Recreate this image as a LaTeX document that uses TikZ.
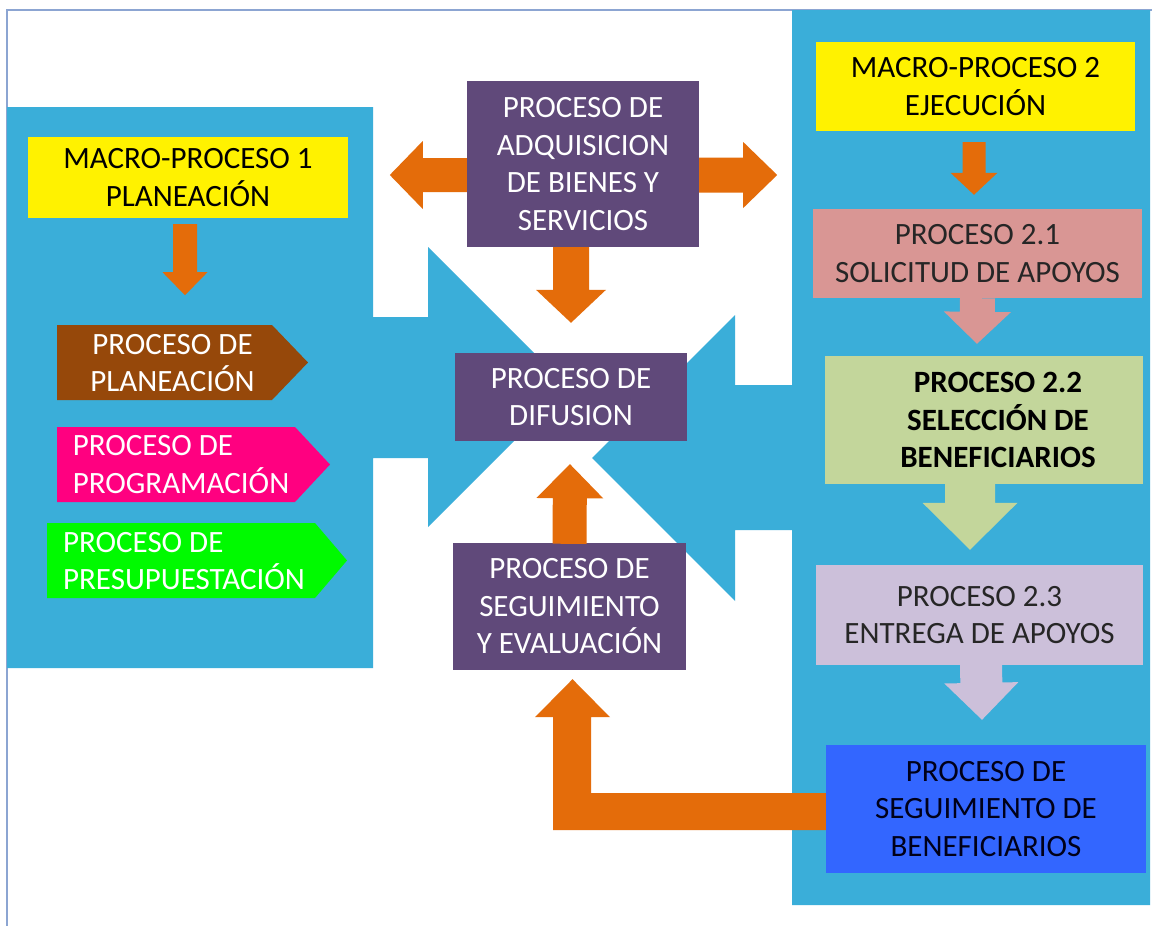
\documentclass[tikz,border=0pt]{standalone}
\usepackage{fontspec}
\setmainfont{Carlito}
\usetikzlibrary{calc}
\definecolor{panelblue}{RGB}{58,174,217}
\definecolor{orangec}{RGB}{228,108,10}
\definecolor{purplec}{RGB}{96,73,122}
\definecolor{brownc}{RGB}{150,72,10}
\definecolor{magentac}{RGB}{255,0,128}
\definecolor{greenc}{RGB}{0,250,0}
\definecolor{pinkc}{RGB}{217,150,148}
\definecolor{lgreenc}{RGB}{195,214,155}
\definecolor{lavc}{RGB}{204,192,218}
\definecolor{bluec}{RGB}{51,102,255}
\definecolor{framec}{RGB}{140,165,210}
\definecolor{darktxt}{RGB}{38,38,38}
\tikzset{
  box/.style={rectangle, inner sep=0pt, align=center, font=\fontsize{31}{37.5}\selectfont},
  txt/.style={inner sep=0pt, font=\fontsize{31}{37.5}\selectfont},
}
\newcommand\blockarrow[6]{%
  \coordinate (baH) at ($(#2)!#5!(#1)$);
  \fill[#6] ($(#1)!#3!90:(#2)$) -- ($(baH)!#3!90:(#2)$) -- ($(baH)!#4!90:(#2)$)
    -- (#2) -- ($(baH)!#4!-90:(#2)$) -- ($(baH)!#3!-90:(#2)$)
    -- ($(#1)!#3!-90:(#2)$) -- cycle;}
\begin{document}
\begin{tikzpicture}[x=1pt,y=-1pt]
\useasboundingbox (0,0) rectangle (1152,926);
\fill[white] (0,0) rectangle (1152,926);
% frame
\draw[framec, line width=1.5pt] (7,926) -- (7,10) -- (1152,10);
% left panel with arrow
\fill[panelblue] (7,107) -- (373,107) -- (373,317) -- (428,317) -- (428,247)
  -- (568,387) -- (428,527) -- (428,458) -- (373,458) -- (373,668) -- (7,668) -- cycle;
% right panel with arrow
\fill[panelblue] (792,10) -- (1150,10) -- (1150,905) -- (792,905) -- (792,530)
  -- (735,530) -- (735,601) -- (592,458) -- (735,315) -- (735,385) -- (792,385) -- cycle;

% left side
\node[box, fill=yellow, minimum width=320pt, minimum height=81pt] (m1) at (188,177.5)
  {MACRO-PROCESO 1\\PLANEACIÓN};
\fill[brownc] (57,325) -- (272,325) -- (308,362.5) -- (272,400) -- (57,400) -- cycle;
\node[txt, white, align=center] (plan) at (172.5,363) {PROCESO DE\\PLANEACIÓN};
\fill[magentac] (57,427) -- (295,427) -- (330,464.5) -- (295,502) -- (57,502) -- cycle;
\node[txt, white, align=left] (prog) at (181,464.5) {PROCESO DE\\PROGRAMACIÓN};
\fill[greenc] (47,523) -- (315,523) -- (347,560.5) -- (315,598) -- (47,598) -- cycle;
\node[txt, white, align=left] (pres) at (184,561) {PROCESO DE\\PRESUPUESTACIÓN};

% center
\node[box, fill=purplec, text=white, minimum width=232pt, minimum height=166pt] (adq) at (583,164)
  {PROCESO DE\\ADQUISICION\\DE BIENES Y\\SERVICIOS};
\node[box, fill=purplec, text=white, minimum width=232pt, minimum height=88pt] (dif) at (571,397)
  {PROCESO DE\\DIFUSION};
\node[box, fill=purplec, text=white, minimum width=233pt, minimum height=127pt] (seg) at (569.5,606.5)
  {PROCESO DE\\SEGUIMIENTO\\Y EVALUACIÓN};

% right side
\node[box, fill=yellow, minimum width=319pt, minimum height=89pt] (m2) at (975.5,86.5)
  {MACRO-PROCESO 2\\EJECUCIÓN};
\node[box, fill=pinkc, text=darktxt, minimum width=329pt, minimum height=89pt] (s21) at (977.5,253.5)
  {PROCESO 2.1\\SOLICITUD DE APOYOS};
\node[box, fill=lgreenc, minimum width=318pt, minimum height=128pt] (s22) at (984,420) {};
\node[txt, align=center, font=\fontsize{31}{37.5}\selectfont\bfseries] (s22t) at (998,420)
  {PROCESO 2.2\\SELECCIÓN DE\\BENEFICIARIOS};
\node[box, fill=lavc, text=darktxt, minimum width=327pt, minimum height=100pt] (s23) at (979.5,615)
  {PROCESO 2.3\\ENTREGA DE APOYOS};
\node[box, fill=bluec, text=black!90!blue, minimum width=320pt, minimum height=128pt] (ben) at (986,809)
  {PROCESO DE\\SEGUIMIENTO DE\\BENEFICIARIOS};

% arrows
\coordinate (a1s) at ($(m1.south)+(-3,6)$);
\coordinate (a1t) at ($(m1.south)+(-3,77)$);
\blockarrow{a1s}{a1t}{12pt}{22.5pt}{23pt}{orangec}

\coordinate (a2s) at ($(adq.west)+(0,11)$);
\coordinate (a2t) at ($(adq.west)+(-77,11)$);
\blockarrow{a2s}{a2t}{17pt}{34pt}{33pt}{orangec}
\coordinate (a3s) at ($(adq.east)+(0,11)$);
\coordinate (a3t) at ($(adq.east)+(78,11)$);
\blockarrow{a3s}{a3t}{17.5pt}{33pt}{34pt}{orangec}

\coordinate (a4s) at (adq.south -| dif.north);
\coordinate (a4t) at ($(dif.north)+(0,-30)$);
\blockarrow{a4s}{a4t}{18pt}{35pt}{33pt}{orangec}

\coordinate (a5s) at ($(seg.north)+(0,1)$);
\coordinate (a5t) at ($(dif.south)+(-1,23)$);
\blockarrow{a5s}{a5t}{17pt}{33.5pt}{34pt}{orangec}

\coordinate (a6s) at ($(m2.south)+(-1.5,11)$);
\coordinate (a6t) at ($(s21.north)+(-3.5,-14)$);
\blockarrow{a6s}{a6t}{11.5pt}{23.5pt}{22pt}{orangec}

\coordinate (a7s) at (s21.south);
\coordinate (a7t) at ($(s22.north)+(-7,-12)$);
\blockarrow{a7s}{a7t}{17.5pt}{33.5pt}{32pt}{pinkc}

\coordinate (a8s) at ($(s22.south)+(-14,-1)$);
\coordinate (a8t) at ($(s23.north)+(-9.5,-15)$);
\blockarrow{a8s}{a8t}{25pt}{47.5pt}{47pt}{lgreenc}

\coordinate (a9s) at ($(s23.south)+(1.5,-1)$);
\coordinate (a9t) at ($(ben.north)+(-4,-25)$);
\blockarrow{a9s}{a9t}{21pt}{37pt}{37pt}{lavc}

% L-shaped return arrow
\fill[orangec] let \p1=(ben.west), \p2=(seg.south) in
  (\x1,\y1+16pt) -- (\x2+21.5pt,\y1+16pt) -- (\x2+21.5pt,\y2-47pt) -- (\x2+40.5pt,\y2-47pt)
  -- (\x2+3pt,\y2-9pt) -- (\x2-34.5pt,\y2-47pt) -- (\x2-16.5pt,\y2-47pt)
  -- (\x2-16.5pt,\y1-21pt) -- (\x1,\y1-21pt) -- cycle;
\end{tikzpicture}
\end{document}
